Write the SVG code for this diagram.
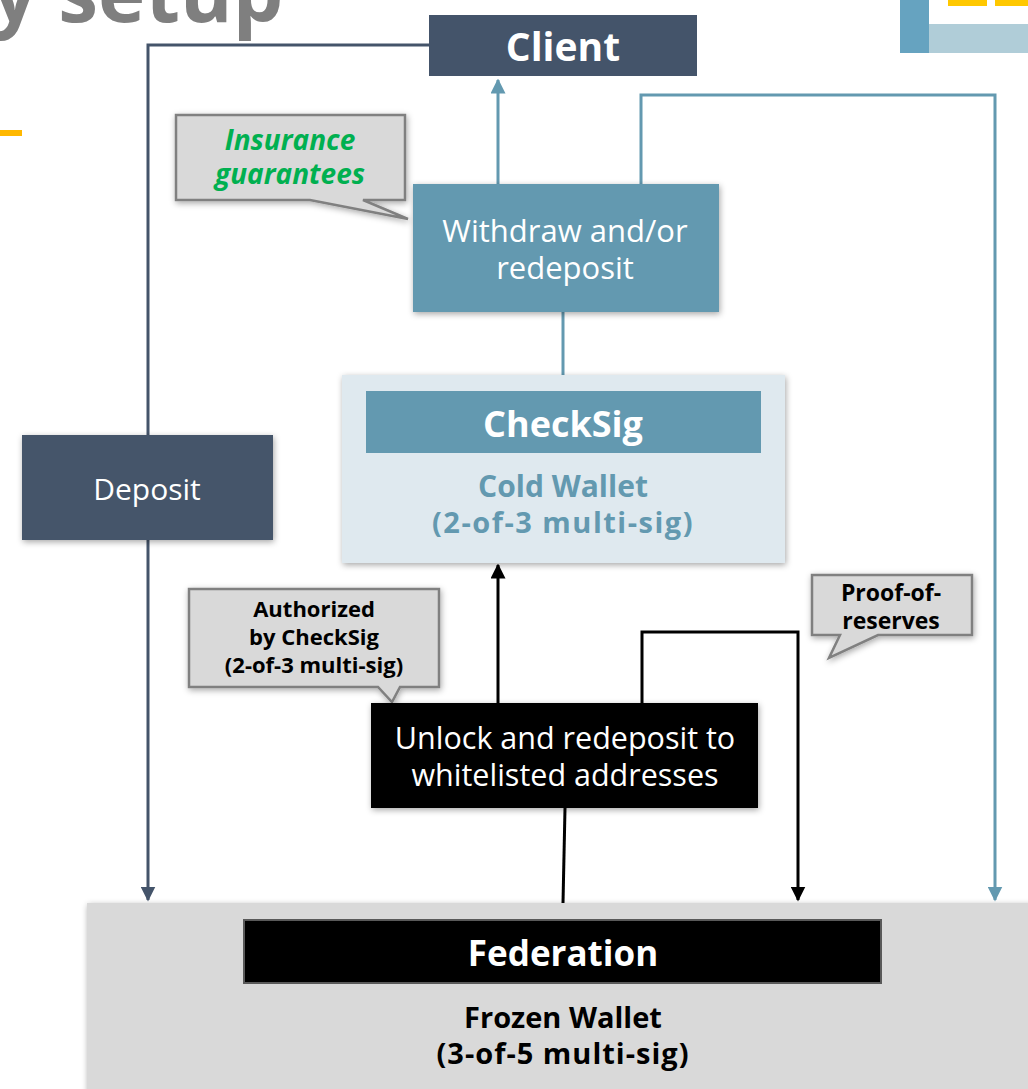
<svg xmlns="http://www.w3.org/2000/svg" width="1028" height="1089" viewBox="0 0 1028 1089">
<style>
text{font-family:"Open Sans","Noto Sans","DejaVu Sans",sans-serif;text-anchor:middle}
.w{fill:#fff}
.b{font-weight:bold}
.call{fill:#d9d9d9;stroke:#808080;stroke-width:2.5}
.cn{fill:none;stroke-width:3}
</style>
<defs>
<filter id="sh" x="-10%" y="-10%" width="120%" height="130%">
<feDropShadow dx="1" dy="2" stdDeviation="3" flood-color="#000" flood-opacity="0.35"/>
</filter>
<marker id="aDark" viewBox="0 0 10 10" refX="9" refY="5" markerWidth="5" markerHeight="5" orient="auto"><path d="M0,0L10,5L0,10z" fill="#44546a"/></marker>
<marker id="aBlue" viewBox="0 0 10 10" refX="9" refY="5" markerWidth="5" markerHeight="5" orient="auto"><path d="M0,0L10,5L0,10z" fill="#6399b0"/></marker>
<marker id="aBlk" viewBox="0 0 10 10" refX="9" refY="5" markerWidth="5" markerHeight="5" orient="auto"><path d="M0,0L10,5L0,10z" fill="#000"/></marker>
</defs>
<rect width="1028" height="1089" fill="#fff"/>
<!-- title fragment -->
<text x="-8" y="22" style="text-anchor:start;font-size:80px;font-weight:bold;fill:#7f7f7f">y setup</text>
<rect x="0" y="130" width="22" height="6" fill="#ffb800"/>
<!-- top right decoration -->
<rect x="900" y="0" width="29" height="53" fill="#66a3c0"/>
<rect x="929" y="24" width="99" height="29" fill="#b0cdd8"/>
<rect x="948" y="0" width="39" height="6" fill="#ffc800"/>
<rect x="995" y="0" width="33" height="6" fill="#ffc800"/>

<g id="federation">
<rect x="87" y="903" width="960" height="200" fill="#d9d9d9" filter="url(#sh)"/>
<rect x="244" y="920" width="637" height="63" fill="#000" stroke="#595959" stroke-width="2"/>
<text x="563" y="966" class="w b" style="font-size:35px">Federation</text>
<text x="563" y="1028" class="b" style="font-size:29px;fill:#000">Frozen Wallet</text>
<text x="563" y="1064" class="b" style="font-size:29px;fill:#000;letter-spacing:1px">(3-of-5 multi-sig)</text>
</g>

<g id="connectors">
<path class="cn" d="M429,45H148V900" stroke="#44546a" marker-end="url(#aDark)"/>
<path class="cn" d="M498,184V80" stroke="#6399b0" marker-end="url(#aBlue)"/>
<path class="cn" d="M641,184V95H995V900" stroke="#6399b0" marker-end="url(#aBlue)"/>
<path class="cn" d="M563,312V375" stroke="#6399b0"/>
<path class="cn" d="M498,703V565" stroke="#000" marker-end="url(#aBlk)"/>
<path class="cn" d="M642,703V632H798V900" stroke="#000" marker-end="url(#aBlk)"/>
<path class="cn" d="M565,808L563,903" stroke="#000"/>
</g>

<g id="client">
<rect x="429" y="15" width="268" height="61" fill="#44546a"/>
<text x="563" y="61" class="w b" style="font-size:39px">Client</text>
</g>

<g id="insurance">
<path class="call" d="M176,115H405V200H363L408,219L310,200H176Z" filter="url(#sh)"/>
<text x="290" y="150" class="b" style="font-size:28px;font-style:italic;fill:#00b050">Insurance</text>
<text x="290" y="184" class="b" style="font-size:28px;font-style:italic;fill:#00b050">guarantees</text>
</g>

<g id="withdraw">
<rect x="413" y="184" width="306" height="128" fill="#6399b0" filter="url(#sh)"/>
<text x="565" y="242" class="w" style="font-size:31px">Withdraw and/or</text>
<text x="565" y="279" class="w" style="font-size:31px">redeposit</text>
</g>

<g id="deposit">
<rect x="22" y="435" width="251" height="105" fill="#44546a" filter="url(#sh)"/>
<text x="147" y="500" class="w" style="font-size:30px">Deposit</text>
</g>

<g id="coldwallet">
<rect x="342" y="375" width="443" height="188" fill="#dfe9ef" filter="url(#sh)"/>
<rect x="366" y="391" width="395" height="62" fill="#6399b0"/>
<text x="563" y="437" class="w b" style="font-size:36px">CheckSig</text>
<text x="563" y="497" class="b" style="font-size:30px;fill:#6399b0">Cold Wallet</text>
<text x="563" y="533" class="b" style="font-size:29px;fill:#6399b0;letter-spacing:1.5px">(2-of-3 multi-sig)</text>
</g>

<g id="authorized">
<path class="call" d="M189,589H439V687H400L392,702L378,687H189Z" filter="url(#sh)"/>
<text x="314" y="617" class="b" style="font-size:22px;fill:#000">Authorized</text>
<text x="314" y="645" class="b" style="font-size:22px;fill:#000">by CheckSig</text>
<text x="314" y="673" class="b" style="font-size:22px;fill:#000">(2-of-3 multi-sig)</text>
</g>

<g id="proof">
<path class="call" d="M812,575H972V635H878L829,658L840,635H812Z" filter="url(#sh)"/>
<text x="891" y="601" class="b" style="font-size:23px;fill:#000">Proof-of-</text>
<text x="891" y="629" class="b" style="font-size:23px;fill:#000">reserves</text>
</g>

<g id="unlock">
<rect x="371" y="703" width="387" height="105" fill="#000" filter="url(#sh)"/>
<text x="565" y="749" class="w" style="font-size:30.5px">Unlock and redeposit to</text>
<text x="565" y="786" class="w" style="font-size:30.5px">whitelisted addresses</text>
</g>
</svg>
